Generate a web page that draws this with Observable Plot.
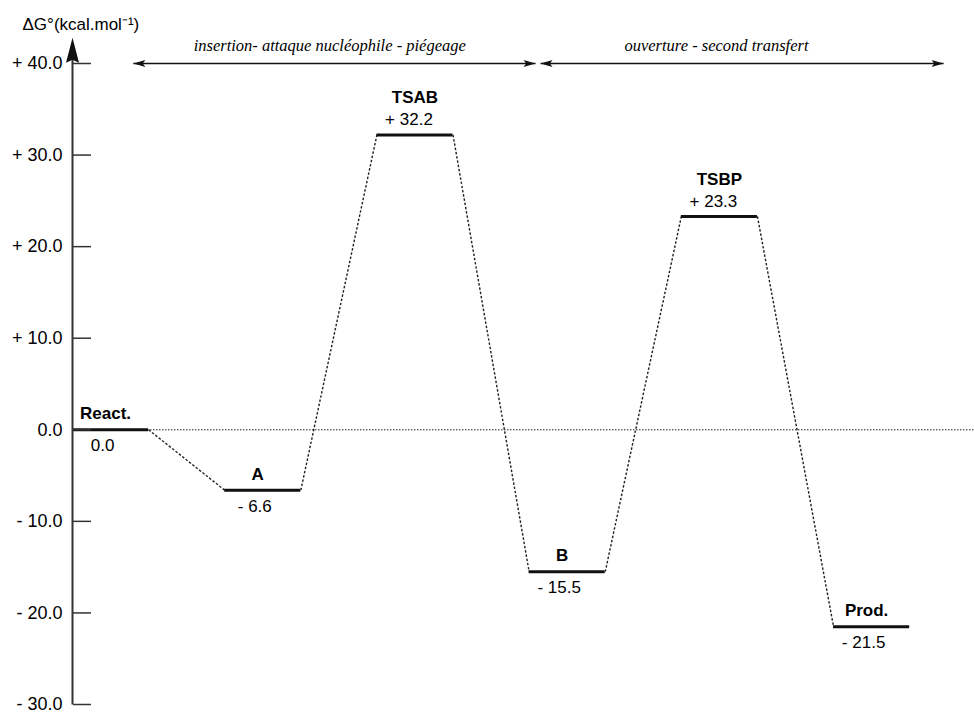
<!DOCTYPE html>
<html><head><meta charset="utf-8">
<script src="https://cdn.jsdelivr.net/npm/d3@7"></script>
<script src="https://cdn.jsdelivr.net/npm/@observablehq/plot@0.6"></script>
<style>body{margin:0;background:#fff} #chart svg{display:block}</style>
</head><body><div id="chart"></div>
<script>
// ---- data ----
const states = ["React.", "A", "TSAB", "B", "TSBP", "Prod."];
const energies = [0.0, -6.6, 32.2, -15.5, 23.3, -21.5];
const kinds = ["min", "min", "ts", "min", "ts", "min"];
const yTicks = [40, 30, 20, 10, 0, -10, -20, -30];
const yTitle = "ΔG°(kcal.mol⁻¹)";
const phaseLabels = ["insertion- attaque nucléophile - piégeage", "ouverture - second transfert"];
const phaseStart = [0.40, 3.075];
const phaseEnd = [3.042, 5.723];
const phaseLabelX = [1.69, 4.231];
const xMax = 5.926;
const yArrowTop = 42.8;

// ---- derived tables ----
const levels = states.map((name, i) => ({name, e: energies[i], kind: kinds[i], x1: i, x2: i + 0.5, xc: i + 0.25}));
const links = levels.slice(1).map((d, k) => ({x1: levels[k].x2, y1: levels[k].e, x2: d.x1, y2: d.e}));
const phases = phaseLabels.map((label, i) => ({label, x1: phaseStart[i], x2: phaseEnd[i], xl: phaseLabelX[i], y: 40}));
const fmt = v => v > 0 ? "+ " + v.toFixed(1) : v < 0 ? "- " + Math.abs(v).toFixed(1) : "0.0";
levels.forEach(d => d.value = fmt(d.e));

const sans = "'Liberation Sans', Arial, Helvetica, sans-serif";
const serif = "'Liberation Serif', 'Times New Roman', serif";

const plot = Plot.plot({
  width: 974, height: 713,
  marginLeft: 72, marginRight: 0, marginTop: 63, marginBottom: 9,
  x: {domain: [0, xMax], axis: null},
  y: {domain: [-30, 40]},
  style: {fontFamily: sans, fontSize: "17px", color: "#000", background: "#fff"},
  marks: [
    // zero reference line
    Plot.ruleY([0], {x1: 0, x2: xMax, stroke: "#222", strokeWidth: 1, strokeDasharray: "1.5,1.5"}),
    // dashed connectors
    Plot.link(links, {x1: "x1", y1: "y1", x2: "x2", y2: "y2", stroke: "#222", strokeWidth: 1.4, strokeDasharray: "2.5,1.8"}),
    // energy levels
    Plot.ruleY(levels, {y: "e", x1: "x1", x2: "x2", stroke: "#111", strokeWidth: 3}),
    // y axis line (arrowhead added below)
    Plot.link([0], {x1: 0, x2: 0, y1: -30, y2: yArrowTop - 1, stroke: "#333", strokeWidth: 2}),
    // phase arrows
    Plot.link(phases, {x1: "x1", x2: "x2", y1: "y", y2: "y", stroke: "#111", strokeWidth: 1.5}),
    Plot.text(phases, {x: "xl", y: 41.93, text: "label", fontFamily: serif, fontStyle: "italic", fontSize: 16.5, lineAnchor: "middle"}),
    // y ticks (inward) and labels
    Plot.axisY(yTicks, {anchor: "right", frameAnchor: "left", tickSize: 18, tickFormat: () => "", label: null, stroke: "#333", strokeWidth: 1.5}),
    Plot.axisY(yTicks, {anchor: "left", tickSize: 0, tickPadding: 10, tickFormat: fmt, label: null, fontSize: 18}),
    // y title
    Plot.text([yTitle], {frameAnchor: "top-left", text: d => d, dx: -50, dy: -39, textAnchor: "start", lineAnchor: "middle", fontSize: 17}),
    // level labels
    Plot.text(levels, {filter: d => d.kind === "min", x: "xc", y: "e", text: "name", fontWeight: "bold", dy: -16, dx: -5, lineAnchor: "middle"}),
    Plot.text(levels, {filter: d => d.kind === "min", x: "xc", y: "e", text: "value", dy: 16, dx: -8, lineAnchor: "middle"}),
    Plot.text(levels, {filter: d => d.kind === "ts", x: "xc", y: "e", text: "name", fontWeight: "bold", dy: -37, lineAnchor: "middle"}),
    Plot.text(levels, {filter: d => d.kind === "ts", x: "xc", y: "e", text: "value", dy: -15, dx: -6, lineAnchor: "middle"})
  ]
});

const NS = "http://www.w3.org/2000/svg";
const svg = plot.tagName.toLowerCase() === "svg" ? plot : plot.querySelector("svg");

// filled arrowhead on the y axis, placed through Plot's own scales, drawn on top
const sx = plot.scale("x"), sy = plot.scale("y");
const ax = sx.apply(0) + 0.5, ay = sy.apply(yArrowTop) + 0.5;
const head = document.createElementNS(NS, "path");
head.setAttribute("d", `M${ax},${ay}L${ax - 6.5},${ay + 25}L${ax},${ay + 22}L${ax + 6.5},${ay + 25}Z`);
head.setAttribute("fill", "#111");
svg.appendChild(head);

// filled double arrowheads for the phase arrows (custom SVG markers)
const defs = document.createElementNS(NS, "defs");
svg.insertBefore(defs, svg.firstChild);
function makeMarker(id, L, W, color, orient, notch) {
  const m = document.createElementNS(NS, "marker");
  m.setAttribute("id", id);
  m.setAttribute("viewBox", `${-L - 1} ${-W - 1} ${L + 2} ${2 * W + 2}`);
  m.setAttribute("markerUnits", "userSpaceOnUse");
  m.setAttribute("markerWidth", L + 2);
  m.setAttribute("markerHeight", 2 * W + 2);
  m.setAttribute("refX", 0);
  m.setAttribute("refY", 0);
  m.setAttribute("orient", orient);
  m.setAttribute("overflow", "visible");
  const p = document.createElementNS(NS, "path");
  p.setAttribute("d", `M${-L},${-W}L0,0L${-L},${W}L${-L + L * notch},0Z`);
  p.setAttribute("fill", color);
  m.appendChild(p);
  defs.appendChild(m);
}
makeMarker("phase-head", 12, 3.5, "#111", "auto-start-reverse", 0.22);
svg.querySelectorAll('g[aria-label="link"][stroke-width="1.5"] path').forEach(p => {
  p.setAttribute("marker-start", "url(#phase-head)");
  p.setAttribute("marker-end", "url(#phase-head)");
});

document.getElementById("chart").appendChild(plot);
</script>
</body></html>
